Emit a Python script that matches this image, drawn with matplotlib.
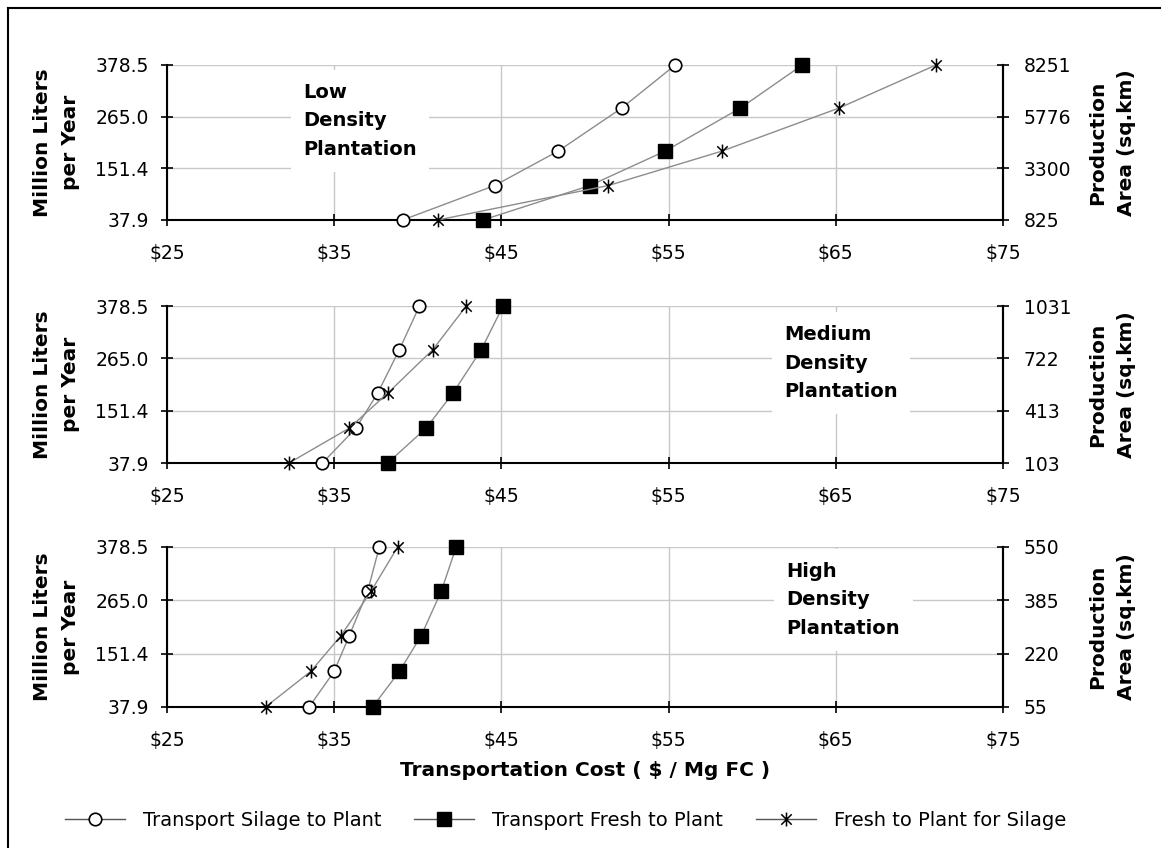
import matplotlib
matplotlib.use('Agg')

import matplotlib.pyplot as plt
from matplotlib.path import Path
from matplotlib.lines import Line2D
from matplotlib.ticker import FuncFormatter

plt.rcParams['font.family'] = ['DejaVu Sans']

# y levels (million liters per year) shared by all series
volume = [37.9, 113.6, 189.3, 283.9, 378.5]
y_ticks = [37.9, 151.4, 265.0, 378.5]
x_ticks = [25, 35, 45, 55, 65, 75]

# transportation cost ($ / Mg FC) per panel
low_silage = [39.1, 44.6, 48.4, 52.2, 55.4]
low_fresh = [43.9, 50.3, 54.8, 59.3, 63.0]
low_fresh_silage = [41.2, 51.4, 58.2, 65.2, 71.0]

med_silage = [34.3, 36.3, 37.6, 38.9, 40.1]
med_fresh = [38.2, 40.5, 42.1, 43.8, 45.1]
med_fresh_silage = [32.3, 35.9, 38.2, 40.9, 42.9]

high_silage = [33.5, 35.0, 35.9, 37.0, 37.7]
high_fresh = [37.3, 38.9, 40.2, 41.4, 42.3]
high_fresh_silage = [30.9, 33.6, 35.4, 37.2, 38.8]

# production area labels (sq.km) for the right axis
low_area = ['825', '3300', '5776', '8251']
med_area = ['103', '413', '722', '1031']
high_area = ['55', '220', '385', '550']

panel_titles = ['Low\nDensity\nPlantation', 'Medium\nDensity\nPlantation',
                'High\nDensity\nPlantation']
series_names = ['Transport Silage to Plant', 'Transport Fresh to Plant',
                'Fresh to Plant for Silage']

# excel-like star marker: X with a vertical bar
STAR = Path([(0, -1), (0, 1), (-0.75, -0.75), (0.75, 0.75), (-0.75, 0.75), (0.75, -0.75)],
            [Path.MOVETO, Path.LINETO, Path.MOVETO, Path.LINETO, Path.MOVETO, Path.LINETO])

LINE_COLOR = '#8c8c8c'
STYLES = [
    dict(marker='o', markersize=9, markerfacecolor='white', markeredgecolor='black', markeredgewidth=1.2),
    dict(marker='s', markersize=10, markerfacecolor='black', markeredgecolor='black'),
    dict(marker=STAR, markersize=10, markerfacecolor='none', markeredgecolor='black', markeredgewidth=1.1),
]

panels = [
    ([low_silage, low_fresh, low_fresh_silage], low_area, (0.1438, 0.7406, 0.7201, 0.1828), (0.163, 0.639)),
    ([med_silage, med_fresh, med_fresh_silage], med_area, (0.1438, 0.4540, 0.7201, 0.1851), (0.738, 0.637)),
    ([high_silage, high_fresh, high_fresh_silage], high_area, (0.1438, 0.1663, 0.7201, 0.1887), (0.741, 0.669)),
]

fig = plt.figure(figsize=(11.61, 8.48), dpi=100)

# outer frame (only top and left edges visible in the reference)
fig.add_artist(Line2D([8 / 1161, 1.0], [1 - 8 / 848, 1 - 8 / 848], color='black', lw=1.5))
fig.add_artist(Line2D([8 / 1161, 8 / 1161], [0.0, 1 - 8 / 848], color='black', lw=1.5))

dollar = FuncFormatter(lambda v, p: '\\$%d' % v)

for idx, (costs, area, rect, txt_pos) in enumerate(panels):
    ax = fig.add_axes(rect)
    for c, st in zip(costs, STYLES):
        ax.plot(c, volume, color=LINE_COLOR, lw=1.0, clip_on=False, zorder=5, **st)

    ax.set_xlim(25, 75)
    ax.set_ylim(37.9, 378.5)
    ax.set_xticks(x_ticks)
    ax.xaxis.set_major_formatter(dollar)
    ax.set_yticks(y_ticks)
    ax.set_yticklabels(['%.1f' % v for v in y_ticks])
    ax.grid(True, color='#c8c8c8', lw=1.0)
    ax.set_axisbelow(True)

    ax.spines['top'].set_visible(False)
    for s in ['left', 'bottom', 'right']:
        ax.spines[s].set_linewidth(1.5)
    ax.tick_params(direction='inout', length=8, width=1.2, labelsize=13.5, colors='black')
    ax.tick_params(axis='x', pad=13)
    ax.tick_params(axis='y', pad=9)

    ax2 = ax.twinx()
    ax2.set_ylim(37.9, 378.5)
    ax2.set_yticks(y_ticks)
    ax2.set_yticklabels(area)
    for s in ['top', 'left', 'bottom']:
        ax2.spines[s].set_visible(False)
    ax2.spines['right'].set_linewidth(1.5)
    ax2.tick_params(direction='inout', length=8, width=1.2, labelsize=13.5, pad=11)

    ax.set_ylabel('Million Liters\nper Year', fontsize=14.5, fontweight='bold',
                  linespacing=1.6, va='center')
    ax.yaxis.set_label_coords(-0.1316, 0.5)
    ax2.set_ylabel('Production\nArea (sq.km)', fontsize=14.5, fontweight='bold',
                   linespacing=1.6, va='center')
    ax2.yaxis.set_label_coords(1.1304, 0.5)

    ax.text(txt_pos[0], txt_pos[1], panel_titles[idx], transform=ax.transAxes,
            fontsize=14, fontweight='bold', ha='left', va='center', linespacing=1.66,
            zorder=4, bbox=dict(facecolor='white', edgecolor='none', pad=9))

    if idx == 2:
        ax.set_xlabel('Transportation Cost ( \\$ / Mg FC )', fontsize=14.5, fontweight='bold',
                      labelpad=8)

handles = [Line2D([], [], color='#555555', lw=1.0, **st) for st in STYLES]
fig.legend(handles, series_names, loc='center', bbox_to_anchor=(0.487, 1 - 820 / 848), ncol=3,
           frameon=False, fontsize=14, handlelength=3.1, columnspacing=1.7, handletextpad=0.9)

plt.savefig('out.png', dpi=100)
